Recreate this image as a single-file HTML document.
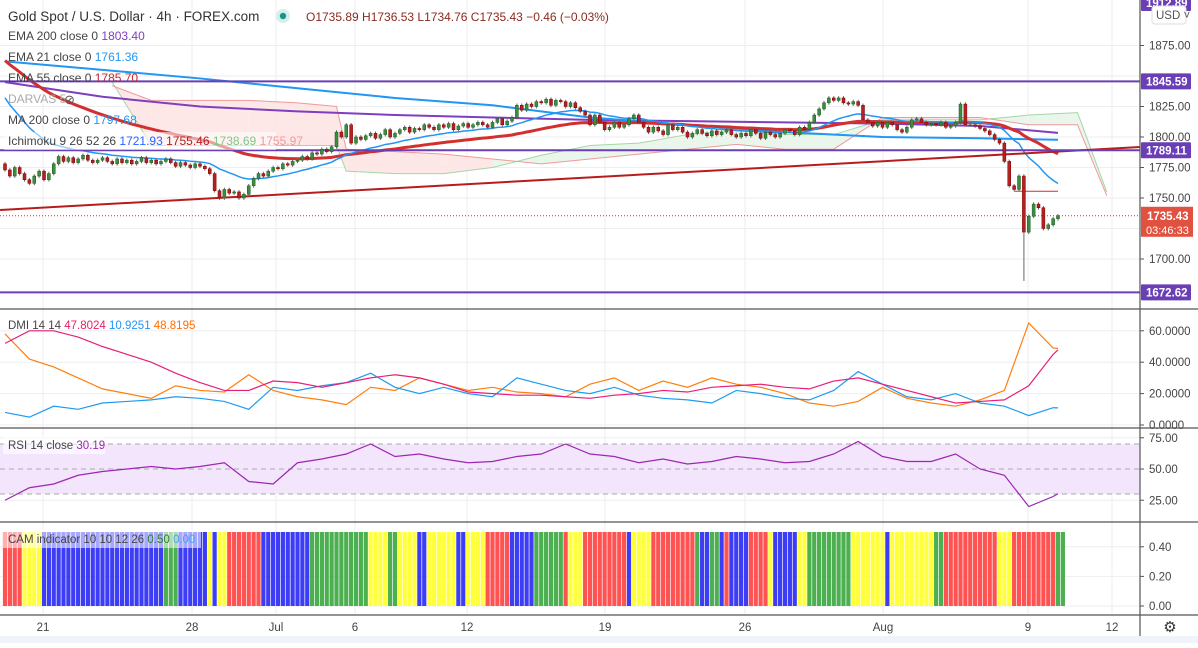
<!DOCTYPE html>
<html><head><meta charset="utf-8">
<style>
html,body{margin:0;padding:0;background:#fff;}
body{width:1198px;height:643px;overflow:hidden;font-family:"Liberation Sans",sans-serif;}
svg text{font-family:"Liberation Sans",sans-serif;}
</style></head>
<body>
<svg id="chart" width="1198" height="643" viewBox="0 0 1198 643" xmlns="http://www.w3.org/2000/svg">
<g id="grid"></g>
<g id="cloud"></g>
<g id="lines"></g>
<g id="candles"></g>
<g id="subs"></g>
<g id="axes"></g>
<g id="legend">
  <text x="8" y="21" font-size="13.5" fill="#333">Gold Spot / U.S. Dollar · 4h · FOREX.com</text>
  <circle cx="283" cy="16" r="7" fill="#d6efec"/>
  <circle cx="283" cy="16" r="3.2" fill="#16968a"/>
  <text x="306" y="21" font-size="12" fill="#8b2a1f">O1735.89  H1736.53  L1734.76  C1735.43  −0.46 (−0.03%)</text>
  <text x="8" y="40" font-size="12" fill="#444">EMA 200 close 0 <tspan fill="#7e3fbf">1803.40</tspan></text>
  <text x="8" y="61" font-size="12" fill="#444">EMA 21 close 0 <tspan fill="#2196f3">1761.36</tspan></text>
  <text x="8" y="82" font-size="12" fill="#444">EMA 55 close 0 <tspan fill="#c62828">1785.70</tspan></text>
  <text x="8" y="103" font-size="12" fill="#aaa">DARVAS 5</text>
  <text x="64" y="104" font-size="13" fill="#555">⊘</text>
  <text x="8" y="124" font-size="12" fill="#444">MA 200 close 0 <tspan fill="#2196f3">1797.68</tspan></text>
  <rect x="4" y="132" width="272" height="18" fill="#fff" opacity="0.55"/>
  <text x="8" y="145" font-size="12" fill="#444">Ichimoku 9 26 52 26 <tspan fill="#2962ff"> 1721.93</tspan><tspan fill="#b71c1c"> 1755.46</tspan><tspan fill="#81c784"> 1738.69</tspan><tspan fill="#ef9a9a"> 1755.97</tspan></text>
  <text x="8" y="329" font-size="11.5" fill="#444">DMI 14 14 <tspan fill="#e91e63"> 47.8024</tspan><tspan fill="#2196f3"> 10.9251</tspan><tspan fill="#ff6d00"> 48.8195</tspan></text>
  <rect x="3" y="436" width="102" height="18" fill="#fff" opacity="0.6"/>
  <text x="8" y="449" font-size="11.5" fill="#444">RSI 14 close <tspan fill="#9c27b0"> 30.19</tspan></text>
  <rect x="3" y="530" width="198" height="18" fill="#fff" opacity="0.55"/>
  <text x="8" y="543" font-size="11.5" fill="#444">CAM indicator 10 10 12 26 <tspan fill="#2e7d32"> 0.50</tspan><tspan fill="#42a5f5"> 0.00</tspan></text>
</g>
</svg>
<script>
// ---------- data ----------
const closes = [
1773,1768,1775,1770,1765,1762,1768,1772,1765,1770,
1778,1784,1780,1783,1779,1782,1785,1781,1779,1781,
1783,1780,1778,1782,1779,1781,1778,1780,1783,1779,
1781,1778,1780,1782,1779,1776,1779,1777,1775,1778,
1776,1774,1770,1756,1750,1757,1754,1755,1750,1753,
1760,1766,1770,1768,1772,1775,1774,1778,1777,1780,
1781,1784,1782,1787,1786,1790,1788,1792,1804,1800,
1810,1795,1800,1798,1801,1803,1799,1802,1806,1800,
1803,1806,1808,1804,1807,1806,1810,1808,1806,1810,
1808,1811,1806,1809,1811,1808,1810,1812,1810,1808,
1812,1815,1810,1813,1816,1826,1822,1827,1825,1829,
1828,1831,1826,1830,1829,1825,1828,1824,1821,1818,
1810,1818,1812,1806,1808,1812,1808,1810,1815,1818,
1812,1808,1804,1808,1805,1802,1810,1806,1808,1804,
1800,1803,1806,1803,1801,1805,1802,1804,1806,1802,
1800,1803,1801,1806,1803,1799,1804,1802,1800,1803,
1806,1805,1802,1808,1806,1812,1818,1823,1828,1832,
1830,1832,1828,1827,1829,1826,1814,1812,1809,1812,
1808,1812,1810,1806,1804,1808,1814,1815,1812,1810,
1811,1810,1812,1808,1809,1812,1827,1810,1810,1809,
1807,1805,1802,1798,1795,1780,1760,1757,1768,1722,
1735,1745,1742,1725,1728,1733,1735.43];
const firstOpen = 1778;
const ema21Seed = 1838;
const ema55Seed = 1866;
const slowIdx = [0,20,40,60,80,100,120,140,160,180,200,216];
const ema200 = [1845,1833,1825,1821,1818,1816,1814,1813,1812,1811,1809,1803.4];
const ma200 = [1862,1855,1848,1840,1832,1826,1816,1810,1804,1800,1799,1797.7];
const cloudIdx = [22,30,40,50,60,68,70,80,90,100,110,120,130,140,150,160,170,180,190,200,210,220,226];
const spanA = [1845,1793,1793,1793,1793,1793,1772,1770,1770,1775,1785,1793,1795,1802,1806,1802,1802,1814,1814,1814,1818,1820,1755];
const spanB = [1842,1830,1830,1830,1828,1825,1790,1788,1786,1782,1778,1782,1786,1790,1794,1790,1790,1816,1816,1816,1810,1810,1752];
const oscStep = 5;
const adx = [52,60,60,56,50,45,40,33,27,22,22,28,27,24,27,30,32,30,26,21,20,19,19,18,17,19,20,22,21,24,25,26,24,23,28,30,26,22,18,14,15,16,25,45,47.8];
const plusDI = [8,5,12,10,14,15,16,18,17,15,10,24,22,25,27,33,24,20,24,20,18,30,26,22,20,24,19,17,16,14,22,20,17,16,22,34,26,18,16,20,14,12,6,11,10.9];
const minusDI = [58,42,37,30,23,20,17,25,22,21,32,22,18,16,13,24,22,30,26,22,24,21,20,18,26,30,22,28,24,30,26,24,20,14,12,15,24,17,14,12,16,22,65,49,48.8];
const rsi = [25,35,38,45,48,50,52,50,52,55,40,38,55,58,62,70,60,62,58,55,56,60,62,70,62,60,55,58,54,56,60,58,55,56,62,72,60,56,56,62,50,45,20,28,30.2];
const camRuns = [['R',4],['Y',4],['B',25],['G',3],['B',6],['Y',1],['B',1],['Y',2],['R',7],['B',10],['G',12],['Y',4],['G',2],['Y',4],['B',2],['Y',6],['B',2],['Y',4],['R',5],['B',5],['G',6],['R',1],['Y',3],['R',9],['B',1],['Y',4],['R',9],['G',1],['B',2],['G',2],['B',1],['R',1],['B',4],['R',4],['Y',1],['B',5],['Y',2],['G',9],['Y',7],['B',1],['Y',9],['G',2],['R',11],['Y',3],['R',9],['G',2]];
const priceTicks = [1700,1725,1750,1775,1800,1825,1850,1875];
const dmiTicks = [0,20,40,60];
const rsiTicks = [25,50,75];
const camTicks = [0,0.2,0.4];
const timeLabels = ['21','28','Jul','6','12','19','26','Aug','9','12'];
const timeLabelX = [43,192,276,355,467,605,745,883,1028,1112];

// ---------- scales ----------
const NS='http://www.w3.org/2000/svg';
const X0=5, XL=1058, AXX=1140;
const step=(XL-X0)/(closes.length-1);
const bx = i => X0 + i*step;
const py = p => 137 + (1800-p)*1.22;
const dy = v => 425 - v*1.57;
const ry = v => 469 - (v-50)*1.25;
const cy = v => 606 - v*148;
function el(tag, attrs, parent){const e=document.createElementNS(NS,tag);for(const k in attrs)e.setAttribute(k,attrs[k]);parent.appendChild(e);return e;}
const G=id=>document.getElementById(id);

// ---------- grid ----------
const grid=G('grid');
timeLabelX.forEach(x=>{const l=el('line',{x1:x,y1:0,x2:x,y2:615,stroke:'#eceef2'},grid);

});
priceTicks.forEach(p=>{el('line',{x1:0,y1:py(p),x2:AXX,y2:py(p),stroke:'#eceef2'},grid);});
dmiTicks.forEach(v=>el('line',{x1:0,y1:dy(v),x2:AXX,y2:dy(v),stroke:'#eceef2'},grid));
rsiTicks.forEach(v=>el('line',{x1:0,y1:ry(v),x2:AXX,y2:ry(v),stroke:'#eceef2'},grid));
camTicks.forEach(v=>el('line',{x1:0,y1:cy(v),x2:AXX,y2:cy(v),stroke:'#eceef2'},grid));

// ---------- cloud ----------
const cloud=G('cloud');
for(let k=0;k<cloudIdx.length-1;k++){
  const a1=py(spanA[k]),a2=py(spanA[k+1]),b1=py(spanB[k]),b2=py(spanB[k+1]);
  const x1=bx(cloudIdx[k]),x2=bx(cloudIdx[k+1]);
  const green=(spanA[k]+spanA[k+1])>=(spanB[k]+spanB[k+1]);
  const poly=el('polygon',{points:`${x1},${a1} ${x2},${a2} ${x2},${b2} ${x1},${b1}`,fill:green?'#e8f5e9':'#fde4e4',opacity:0.9},cloud);
  
  
}
const pA=el('polyline',{points:cloudIdx.map((i,k)=>bx(i)+','+py(spanA[k])).join(' '),fill:'none',stroke:'#a5d6a7','stroke-width':1},cloud);


const pB=el('polyline',{points:cloudIdx.map((i,k)=>bx(i)+','+py(spanB[k])).join(' '),fill:'none',stroke:'#ef9a9a','stroke-width':1},cloud);



// ---------- lines ----------
const lines=G('lines');
function ema(seed,n){const a=2/(n+1);let v=seed;return closes.map(c=>(v=v+a*(c-v)));}
const e21=ema(ema21Seed,21), e55=ema(ema55Seed,55);
const l200=el('polyline',{points:slowIdx.map((i,k)=>bx(i)+','+py(ema200[k])).join(' '),fill:'none',stroke:'#7e3fbf','stroke-width':2},lines);


const lma=el('polyline',{points:slowIdx.map((i,k)=>bx(i)+','+py(ma200[k])).join(' '),fill:'none',stroke:'#2196f3','stroke-width':2},lines);


const l55=el('polyline',{points:e55.map((v,i)=>bx(i)+','+py(v)).join(' '),fill:'none',stroke:'#d32f2f','stroke-width':3},lines);


const l21=el('polyline',{points:e21.map((v,i)=>bx(i)+','+py(v)).join(' '),fill:'none',stroke:'#2196f3','stroke-width':1.5},lines);


const trend=el('line',{x1:0,y1:210,x2:AXX,y2:147,stroke:'#b71c1c','stroke-width':2},lines);


[1845.59,1789.11,1672.62].forEach(p=>{
  const h=el('line',{x1:0,y1:py(p),x2:AXX,y2:py(p),stroke:'#6a3fb5','stroke-width':2},lines);
  
  
});
const kij=el('line',{x1:bx(207),y1:py(1755.5),x2:XL,y2:py(1755.5),stroke:'#d32f2f','stroke-width':1},lines);


const cur=el('line',{x1:0,y1:py(1735.43),x2:AXX,y2:py(1735.43),stroke:'#d32f2f','stroke-width':1,'stroke-dasharray':'1,2'},lines);



// ---------- candles ----------
const cg=G('candles');
closes.forEach((c,i)=>{
  const o=i?closes[i-1]:firstOpen;
  const hi=Math.max(o,c)+1.5, lo=Math.min(o,c)-1.5;
  const x=bx(i), up=c>=o;
  const w=el('line',{x1:x,y1:py(hi),x2:x,y2:py(lo),stroke:'#666','stroke-width':1},cg);
  
  
  const b=el('rect',{x:x-1.5,y:py(Math.max(o,c)),width:3,height:Math.max(1,Math.abs(py(o)-py(c))),fill:up?'#3d8c40':'#b22222',stroke:up?'#1b5e20':'#7f0000','stroke-width':0.5},cg);
  
  
});
const fw=el('line',{x1:bx(209),y1:py(1722),x2:bx(209),y2:py(1682),stroke:'#999','stroke-width':1.5},cg);



// ---------- sub panes ----------
const sg=G('subs');
const ox=k=>bx(k*oscStep);
function pl(arr,f,color,name,w){const p=el('polyline',{points:arr.map((v,k)=>Math.min(ox(k),XL)+','+f(v)).join(' '),fill:'none',stroke:color,'stroke-width':w||1.2},sg);return p;}
const s1=pl(minusDI,dy,'#ff7f0e','dmi-minus-di');

const s2=pl(plusDI,dy,'#1e9bf0','dmi-plus-di');

const s3=pl(adx,dy,'#e91e7a','dmi-adx');

const band=el('rect',{x:0,y:ry(70),width:AXX,height:ry(30)-ry(70),fill:'#f3e5fc'},sg);


[70,50,30].forEach(v=>el('line',{x1:0,y1:ry(v),x2:AXX,y2:ry(v),stroke:'#aaa','stroke-dasharray':'5,4','stroke-width':1},sg));
const s4=pl(rsi,ry,'#9c27b0','rsi-line');

const camCol={R:'#ff5252',Y:'#ffff3b',B:'#3d3df5',G:'#4caf50'};
let bi=0;
camRuns.forEach(([c,n])=>{for(let j=0;j<n;j++){
  const r=el('rect',{x:bx(bi)-2.1,y:cy(0.5),width:4.2,height:cy(0)-cy(0.5),fill:camCol[c]},sg);
  
  
  bi++;}});

// ---------- axes ----------
const ax=G('axes');
[309,428,522,615].forEach(y=>el('line',{x1:0,y1:y,x2:1198,y2:y,stroke:'#555','stroke-width':1.2},ax));
el('line',{x1:AXX,y1:0,x2:AXX,y2:643,stroke:'#555','stroke-width':1.2},ax);
el('rect',{x:0,y:636,width:1198,height:7,fill:'#f0f3fa'},ax);
function tick(y,label,name){el('line',{x1:AXX,y1:y,x2:AXX+4,y2:y,stroke:'#555'},ax);const t=el('text',{x:AXX+9,y:y+4,'font-size':11.5,fill:'#444'},ax);t.textContent=label;}
priceTicks.filter(p=>p!==1850&&p!==1725).forEach(p=>tick(py(p),p.toFixed(2),'price-tick'));
dmiTicks.forEach(v=>tick(dy(v),v.toFixed(4),'dmi-tick'));
rsiTicks.forEach(v=>tick(ry(v),v.toFixed(2),'rsi-tick'));
camTicks.forEach(v=>tick(cy(v),v.toFixed(2),'cam-tick'));
function badge(y,label,color,name,h){const r=el('rect',{x:AXX+1,y:y-(h||16)/2,width:50,height:h||16,fill:color,rx:1},ax);const t=el('text',{x:AXX+6,y:y+4,'font-size':11.5,'font-weight':'bold',fill:'#fff'},ax);t.textContent=label;return t;}
badge(3,'1912.89','#6a3fb5','top-level-label');
badge(py(1845.59),'1845.59','#6a3fb5','level-label-1845');
badge(py(1789.11),'1789.11','#6a3fb5','level-label-1789');
badge(py(1672.62),'1672.62','#6a3fb5','level-label-1672');
const pr=el('rect',{x:AXX+1,y:py(1735.43)-9,width:52,height:30,fill:'#e0513f'},ax);


const pt=el('text',{x:AXX+7,y:py(1735.43)+4,'font-size':11.5,'font-weight':'bold',fill:'#fff'},ax);pt.textContent='1735.43';
const ct=el('text',{x:AXX+6,y:py(1735.43)+18,'font-size':11,fill:'#fff'},ax);ct.textContent='03:46:33';


const ub=el('rect',{x:1152,y:6,width:34,height:18,fill:'#fff',stroke:'#ddd',rx:3},ax);


const ut=el('text',{x:1156,y:19,'font-size':11.5,fill:'#555'},ax);ut.textContent='USD ˅';
timeLabels.forEach((s,k)=>{const t=el('text',{x:timeLabelX[k],y:631,'font-size':11.5,fill:'#444','text-anchor':'middle'},ax);t.textContent=s;

});
const gear=el('text',{x:1170,y:632,'font-size':15,fill:'#333','text-anchor':'middle'},ax);gear.textContent='⚙';


</script>
</body></html>
